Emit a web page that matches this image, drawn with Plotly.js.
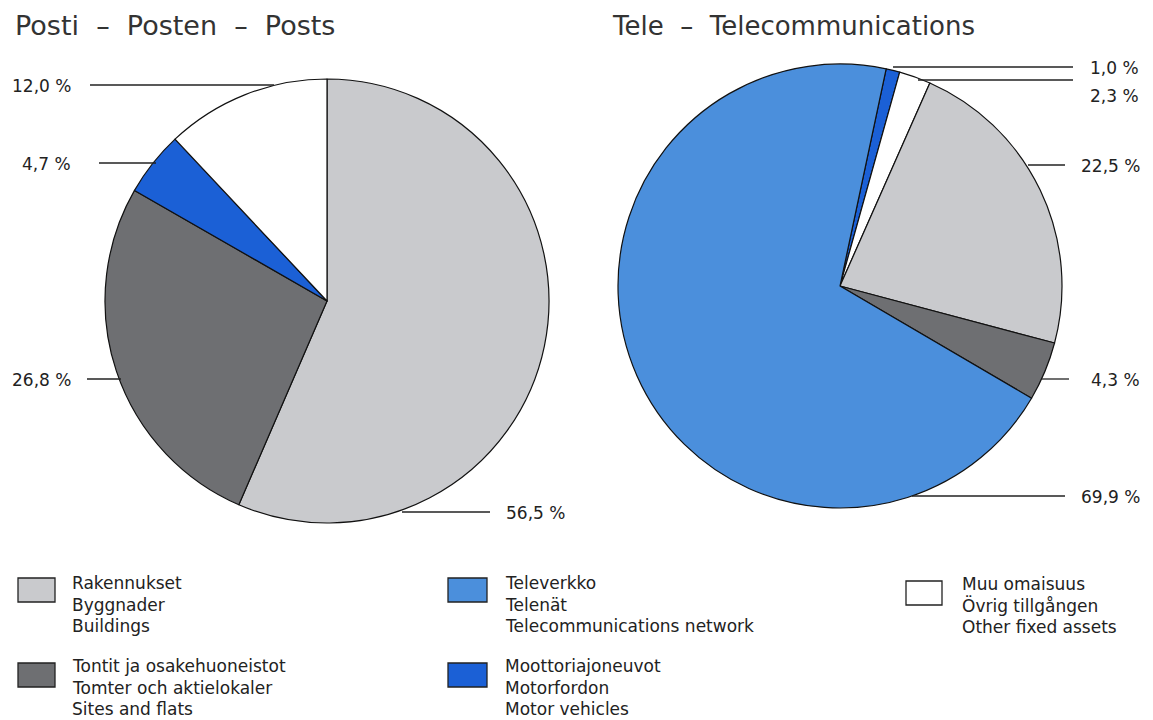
<!DOCTYPE html>
<html>
<head>
<meta charset="utf-8">
<script src="https://cdn.plot.ly/plotly-3.0.1.min.js"></script>
<style>html,body{margin:0;padding:0;background:#fff;}#chart{width:1153px;height:720px;}</style>
</head>
<body>
<div id="chart"></div>
<script>
// ---------- data ----------
const postiTitle = "Posti  –  Posten  –  Posts";
const teleTitle = "Tele  –  Telecommunications";

const postiCategories = ["Buildings", "Sites and flats", "Motor vehicles", "Other fixed assets"];
const postiValues = [56.5, 26.8, 4.7, 12.0];

const teleCategories = ["Motor vehicles", "Other fixed assets", "Buildings", "Sites and flats", "Telecommunications network"];
const teleValues = [1.0, 2.3, 22.5, 4.3, 69.9];

const legendCategories = ["Buildings", "Sites and flats", "Telecommunications network", "Motor vehicles", "Other fixed assets"];
const legendTexts = [
  ["Rakennukset", "Byggnader", "Buildings"],
  ["Tontit ja osakehuoneistot", "Tomter och aktielokaler", "Sites and flats"],
  ["Televerkko", "Telenät", "Telecommunications network"],
  ["Moottoriajoneuvot", "Motorfordon", "Motor vehicles"],
  ["Muu omaisuus", "Övrig tillgången", "Other fixed assets"]
];

// ---------- styles ----------
const colorMap = {
  "Buildings": "#c9cacd",
  "Sites and flats": "#6e6f72",
  "Motor vehicles": "#1b60d6",
  "Other fixed assets": "#ffffff",
  "Telecommunications network": "#4b8fdc"
};

const W = 1153, H = 720;
const px = x => x / W;
const py = y => 1 - y / H;
const FONT = "DejaVu Sans";
const TXT = "#222222";

function fmt(v) { return v.toFixed(1).replace(".", ",") + " %"; }

const traces = [
  {
    type: "pie", labels: postiCategories, values: postiValues, sort: false,
    direction: "clockwise", rotation: 0,
    marker: { colors: postiCategories.map(c => colorMap[c]), line: { color: "#111", width: 1.2 } },
    textinfo: "none", textposition: "none", hoverinfo: "label+value",
    domain: { x: [px(105), px(549)], y: [py(523), py(79)] }
  },
  {
    type: "pie", labels: teleCategories, values: teleValues, sort: false,
    direction: "clockwise", rotation: 12,
    marker: { colors: teleCategories.map(c => colorMap[c]), line: { color: "#111", width: 1.2 } },
    textinfo: "none", textposition: "none", hoverinfo: "label+value",
    domain: { x: [px(618), px(1062)], y: [py(508), py(64)] }
  }
];

// label placement (layout only)
const postiLabelPos = [
  { lineY: 512, x0: 402, x1: 490, tx: 504, ty: 513, anchor: "left" },
  { lineY: 379, x0: 87, x1: 121, tx: 73, ty: 380, anchor: "right" },
  { lineY: 163, x0: 99, x1: 156, tx: 73, ty: 164, anchor: "right" },
  { lineY: 85, x0: 90, x1: 274, tx: 73, ty: 86, anchor: "right" }
];
const teleLabelPos = [
  { lineY: 67, x0: 893, x1: 1073, tx: 1141, ty: 68, anchor: "right" },
  { lineY: 80, x0: 918, x1: 1073, tx: 1141, ty: 96, anchor: "right" },
  { lineY: 165, x0: 1028, x1: 1065, tx: 1142, ty: 166, anchor: "right" },
  { lineY: 379, x0: 1042, x1: 1069, tx: 1142, ty: 380, anchor: "right" },
  { lineY: 496, x0: 912, x1: 1065, tx: 1142, ty: 497, anchor: "right" }
];

const shapes = [];
const annotations = [];

function addLabels(values, pos) {
  values.forEach((v, i) => {
    const p = pos[i];
    shapes.push({ type: "line", xref: "paper", yref: "paper",
      x0: px(p.x0), x1: px(p.x1), y0: py(p.lineY), y1: py(p.lineY),
      line: { color: "#222", width: 1.3 } });
    annotations.push({ xref: "paper", yref: "paper", x: px(p.tx), y: py(p.ty),
      xanchor: p.anchor, yanchor: "middle", showarrow: false, text: fmt(v),
      font: { family: FONT, size: 17, color: TXT } });
  });
}
addLabels(postiValues, postiLabelPos);
addLabels(teleValues, teleLabelPos);

// titles
annotations.push({ xref: "paper", yref: "paper", x: px(13), y: py(26), xanchor: "left", yanchor: "middle",
  showarrow: false, text: postiTitle, font: { family: FONT, size: 27, color: "#333" } });
annotations.push({ xref: "paper", yref: "paper", x: px(610), y: py(26), xanchor: "left", yanchor: "middle",
  showarrow: false, text: teleTitle, font: { family: FONT, size: 26, color: "#333" } });

// legend (custom)
const legendPos = [
  { bx0: 18, bx1: 55, by0: 578, by1: 602, tx: 70, ty: 583 },
  { bx0: 18, bx1: 55, by0: 663, by1: 687, tx: 70, ty: 666 },
  { bx0: 448, bx1: 487, by0: 578, by1: 602, tx: 503, ty: 583 },
  { bx0: 448, bx1: 487, by0: 663, by1: 687, tx: 503, ty: 666 },
  { bx0: 906, bx1: 942, by0: 581, by1: 605, tx: 960, ty: 584 }
];
legendCategories.forEach((c, i) => {
  const p = legendPos[i];
  shapes.push({ type: "rect", xref: "paper", yref: "paper",
    x0: px(p.bx0), x1: px(p.bx1), y0: py(p.by1), y1: py(p.by0),
    fillcolor: colorMap[c], line: { color: "#222", width: 1.3 } });
  legendTexts[i].forEach((t, j) => {
    annotations.push({ xref: "paper", yref: "paper", x: px(p.tx), y: py(p.ty + j * 21.5),
      xanchor: "left", yanchor: "middle", showarrow: false, text: t,
      font: { family: FONT, size: 17, color: TXT } });
  });
});

const layout = {
  width: W, height: H,
  margin: { l: 0, r: 0, t: 0, b: 0 },
  paper_bgcolor: "#ffffff",
  showlegend: false,
  shapes: shapes,
  annotations: annotations
};

Plotly.newPlot("chart", traces, layout, { displayModeBar: false, staticPlot: true });
</script>
</body>
</html>
